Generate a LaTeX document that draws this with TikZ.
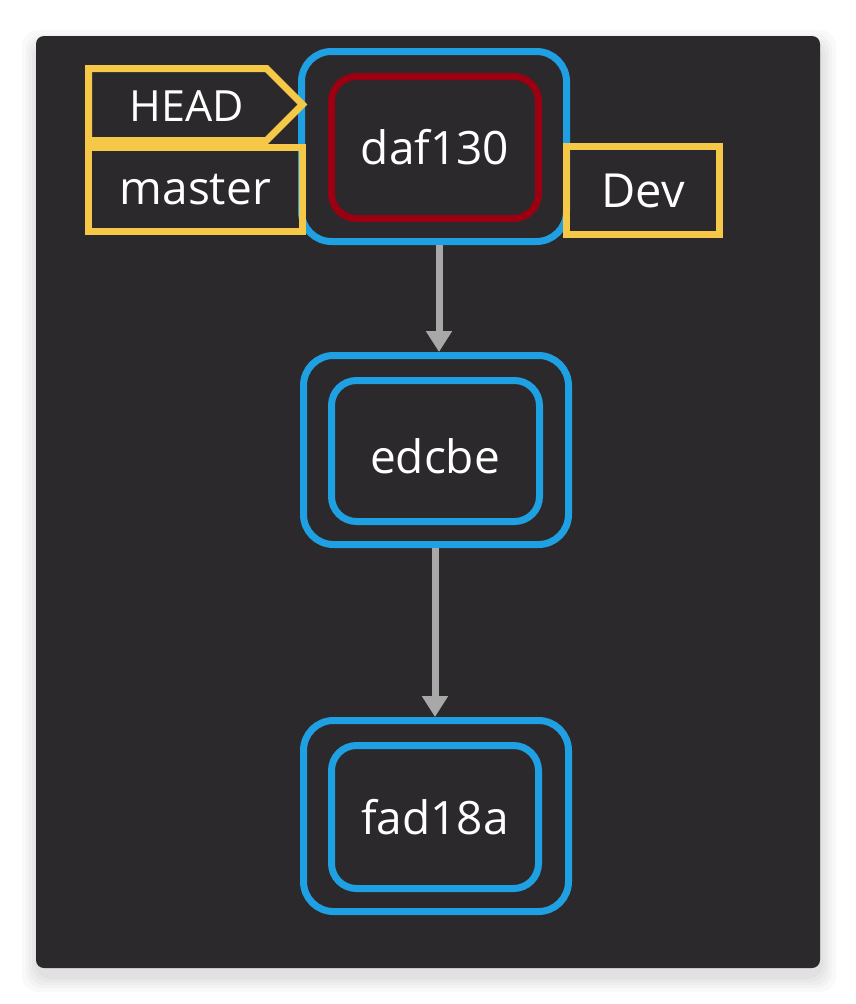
\documentclass[tikz,border=0pt]{standalone}
\usepackage{fontspec}
\setmainfont{Open Sans}
\usetikzlibrary{arrows.meta}
\definecolor{bgdark}{RGB}{43,41,43}
\definecolor{cblue}{RGB}{30,160,226}
\definecolor{cred}{RGB}{155,0,18}
\definecolor{cyellow}{RGB}{246,200,72}
\definecolor{cgray}{RGB}{168,168,168}
\tikzset{
  outerbox/.style={draw=cblue, line width=7pt, rounded corners=30pt, inner sep=0pt},
  innerbox/.style={draw=#1, line width=7pt, rounded corners=25pt, inner sep=0pt, text=white, font=\fontsize{46}{50}\selectfont},
  refbox/.style={draw=cyellow, line width=7pt, inner sep=0pt, text=white, font=\fontsize{46}{50}\selectfont},
  refline/.style={draw=cyellow, line width=7pt, miter limit=10},
  lbl/.style={text=white, inner sep=0pt},
  parent/.style={draw=cgray, line width=7pt, -{Triangle[width=25pt,length=21pt]}}
}
\begin{document}
\begin{tikzpicture}[x=1pt,y=-1pt]
\useasboundingbox (0,0) rectangle (856,1004);
\fill[white] (0,0) rectangle (856,1004);
% soft shadow
\foreach \s in {16,12,9,6,3}{
  \fill[black,opacity=0.022,rounded corners=16pt] (36-\s+2,36-\s+10) rectangle (820+\s,968+\s+8);
}
\fill[bgdark,rounded corners=8pt] (36,36) rectangle (820,968);

% commits
\node[outerbox, minimum width=265pt, minimum height=190pt] (o1) at (434,146.5) {};
\node[innerbox=cred, minimum width=207pt, minimum height=142pt] (c1) at (435,147.5) {daf130};

\node[outerbox, minimum width=265pt, minimum height=189pt] (o2) at (436,450) {};
\node[innerbox=cblue, minimum width=208pt, minimum height=141pt] (c2) at (435.5,451) {};
\node[lbl, font=\fontsize{46}{50}\selectfont] (t2) at (435,456) {edcbe};

\node[outerbox, minimum width=265pt, minimum height=191pt] (o3) at (436,816) {};
\node[innerbox=cblue, minimum width=207pt, minimum height=143pt] (c3) at (435,817) {fad18a};

% arrows
\draw[parent] ([xshift=5pt]o1.south) -- ([xshift=3pt]o2.north);
\draw[parent] ([xshift=-1pt]o2.south) -- ([xshift=-1pt]o3.north);

% refs
\node[lbl, font=\fontsize{43}{48}\selectfont] (head) at (187,106) {HEAD};
\draw[refline] (88.5,68.5) -- (266.5,68.5) -- (302.5,104.5) -- (266.5,140.5) -- (88.5,140.5) -- cycle;
\node[refbox, minimum width=213.5pt, minimum height=84.5pt] (master) at (195.25,189.25) {master};
\node[refbox, minimum width=153pt, minimum height=88pt, font=\fontsize{47}{50}\selectfont] (dev) at (643,190.5) {Dev};
\end{tikzpicture}
\end{document}
